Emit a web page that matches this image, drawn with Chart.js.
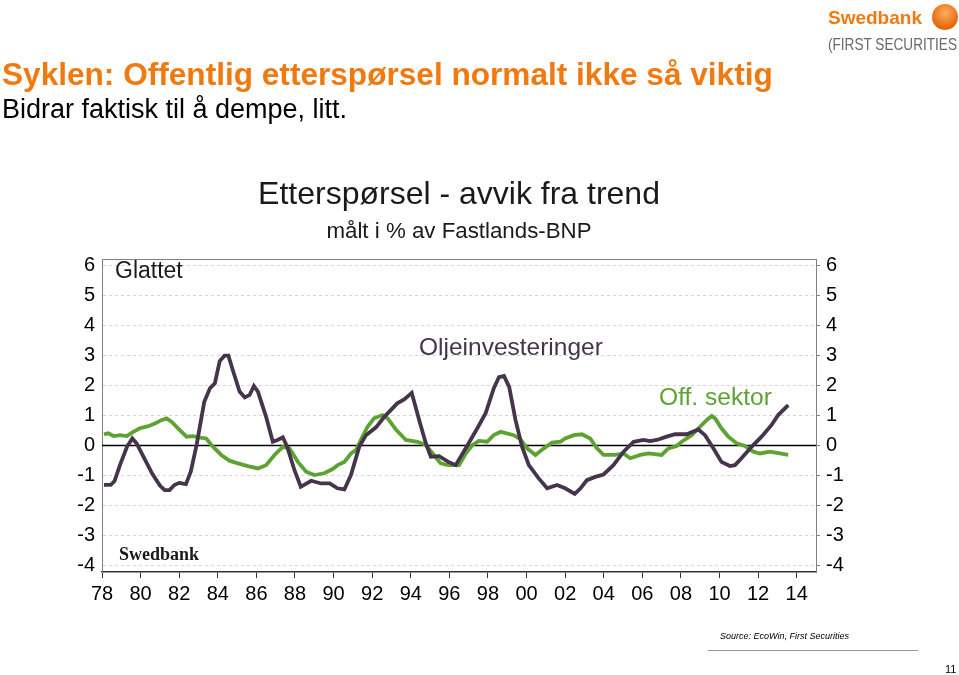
<!DOCTYPE html>
<html>
<head>
<meta charset="utf-8">
<script src="https://cdn.jsdelivr.net/npm/chart.js@4.4.1/dist/chart.umd.min.js"></script>
<style>
  body { margin: 0; background: #fff; width: 959px; height: 675px; overflow: hidden; position: relative; font-family: "Liberation Sans", Arial, sans-serif; }
  #wrap { position: absolute; left: 0; top: 0; width: 959px; height: 675px; }
  .abs { position: absolute; white-space: nowrap; }
  #head1 { left: 2px; top: 56px; font-size: 31.6px; font-weight: bold; color: #f07a10; }
  #head2 { left: 2px; top: 94px; font-size: 27px; color: #000; }
  #logo1 { left: 828px; top: 7px; font-size: 19px; font-weight: bold; color: #f07a10; }
  #sun { left: 932px; top: 4px; width: 26px; height: 26px; border-radius: 50%; background: radial-gradient(circle at 50% 35%, #f9b060, #e8650a 70%); }
  #logo2 { left: 828px; top: 35px; font-size: 17px; color: #6a6a6a; transform-origin: left top; transform: scaleX(0.8); }
  #source { left: 720px; top: 631px; font-size: 9px; font-style: italic; color: #000; }
  #rule { left: 708px; top: 650px; width: 210px; height: 1px; background: #999; }
  #page { left: 945px; top: 663px; font-size: 11px; color: #000; }
</style>
</head>
<body>
<div id="wrap"><canvas id="chart" width="959" height="675"></canvas></div>
<div class="abs" id="head1">Syklen: Offentlig etterspørsel normalt ikke så viktig</div>
<div class="abs" id="head2">Bidrar faktisk til å dempe, litt.</div>
<div class="abs" id="logo1">Swedbank</div>
<div class="abs" id="sun"></div>
<div class="abs" id="logo2">(FIRST SECURITIES</div>
<div class="abs" id="source">Source: EcoWin, First Securities</div>
<div class="abs" id="rule"></div>
<div class="abs" id="page">11</div>
<script>
// Oljeinvesteringer (purple)
const oljeYears = [1978.1, 1978.45, 1978.65, 1978.93, 1979.3, 1979.57, 1979.8, 1980.2, 1980.6, 1981.0,
  1981.25, 1981.5, 1981.75, 1982.0, 1982.35, 1982.6, 1982.9, 1983.3, 1983.6, 1983.85,
  1984.1, 1984.35, 1984.55, 1984.8, 1985.13, 1985.4, 1985.65, 1985.87, 1986.08, 1986.5,
  1986.85, 1987.1, 1987.37, 1987.6, 1987.97, 1988.3, 1988.84, 1989.35, 1989.8, 1990.2,
  1990.56, 1990.9, 1991.33, 1991.68, 1992.2, 1992.63, 1993.3, 1993.66, 1994.05, 1994.45,
  1994.78, 1995.04, 1995.47, 1995.95, 1996.33, 1997.0, 1997.45, 1997.88, 1998.3, 1998.57,
  1998.83, 1999.1, 1999.43, 1999.77, 2000.12, 2000.63, 2001.07, 2001.58, 2002.0, 2002.5,
  2002.8, 2003.13, 2003.56, 2003.99, 2004.5, 2005.03, 2005.55, 2006.06, 2006.4, 2006.75,
  2007.26, 2007.7, 2008.3, 2008.9, 2009.25, 2009.68, 2010.1, 2010.54, 2010.8, 2011.14,
  2011.66, 2012.18, 2012.7, 2013.04, 2013.56];
const oljeValues = [-1.33, -1.33, -1.2, -0.67, -0.05, 0.22, 0.05, -0.45, -0.95, -1.35,
  -1.5, -1.5, -1.33, -1.26, -1.3, -0.89, 0.0, 1.44, 1.9, 2.06,
  2.8, 2.98, 2.98, 2.45, 1.78, 1.59, 1.67, 1.97, 1.78, 0.95,
  0.11, 0.17, 0.26, -0.06, -0.83, -1.39, -1.19, -1.28, -1.28, -1.44,
  -1.48, -1.0, -0.06, 0.33, 0.59, 0.94, 1.39, 1.52, 1.74, 0.8,
  0.06, -0.39, -0.37, -0.56, -0.67, 0.06, 0.56, 1.06, 1.89, 2.26,
  2.3, 1.94, 0.83, -0.06, -0.67, -1.11, -1.44, -1.33, -1.44, -1.63,
  -1.44, -1.17, -1.06, -0.98, -0.67, -0.22, 0.11, 0.17, 0.13, 0.17,
  0.28, 0.36, 0.36, 0.52, 0.33, -0.11, -0.56, -0.7, -0.67, -0.44,
  -0.06, 0.28, 0.67, 1.0, 1.33];

// Off. sektor (green)
const offYears = [1978.1, 1978.33, 1978.6, 1978.93, 1979.28, 1979.62, 1979.96, 1980.4, 1980.74, 1981.08,
  1981.34, 1981.6, 1982.03, 1982.38, 1982.72, 1983.0, 1983.4, 1983.76, 1984.18, 1984.6,
  1985.04, 1985.56, 1986.08, 1986.5, 1986.94, 1987.37, 1987.72, 1988.15, 1988.58, 1989.0,
  1989.52, 1989.95, 1990.21, 1990.56, 1990.9, 1991.16, 1991.5, 1991.76, 1992.1, 1992.54,
  1992.8, 1993.23, 1993.75, 1994.35, 1994.78, 1995.2, 1995.55, 1995.95, 1996.5, 1996.85,
  1997.19, 1997.53, 1997.96, 1998.3, 1998.66, 1999.34, 1999.69, 2000.03, 2000.46, 2000.9,
  2001.32, 2001.76, 2002.0, 2002.45, 2002.87, 2003.3, 2003.65, 2003.99, 2004.6, 2005.03,
  2005.37, 2005.9, 2006.32, 2007.0, 2007.35, 2007.78, 2008.04, 2008.56, 2008.99, 2009.33,
  2009.6, 2009.77, 2010.1, 2010.46, 2010.88, 2011.32, 2011.75, 2012.1, 2012.6, 2013.13,
  2013.56];
const offValues = [0.36, 0.39, 0.3, 0.33, 0.3, 0.44, 0.56, 0.63, 0.72, 0.83,
  0.89, 0.78, 0.5, 0.28, 0.3, 0.26, 0.22, -0.06, -0.33, -0.52,
  -0.61, -0.7, -0.78, -0.67, -0.33, -0.06, -0.11, -0.56, -0.89, -1.0,
  -0.94, -0.8, -0.67, -0.56, -0.28, -0.17, 0.28, 0.61, 0.89, 1.0,
  0.89, 0.52, 0.17, 0.11, 0.0, -0.33, -0.61, -0.67, -0.67, -0.28,
  0.0, 0.14, 0.11, 0.33, 0.44, 0.33, 0.19, -0.11, -0.33, -0.11,
  0.08, 0.11, 0.22, 0.33, 0.36, 0.22, -0.11, -0.33, -0.33, -0.28,
  -0.44, -0.33, -0.28, -0.33, -0.11, -0.03, 0.11, 0.33, 0.61, 0.83,
  0.97, 0.89, 0.56, 0.28, 0.06, -0.03, -0.22, -0.28, -0.22, -0.28,
  -0.33];

const xTicks = [1978, 1980, 1982, 1984, 1986, 1988, 1990, 1992, 1994, 1996,
  1998, 2000, 2002, 2004, 2006, 2008, 2010, 2012, 2014];
const yTicks = [-4, -3, -2, -1, 0, 1, 2, 3, 4, 5, 6];

const FONT = "'Liberation Sans', Arial, sans-serif";
const PURPLE = "#45344c";
const GREEN = "#5ea332";

const toPoints = (xs, ys) => xs.map((x, i) => ({ x: x, y: ys[i] }));

// texts, zero line and top border drawn on the canvas
const extras = {
  id: "extras",
  beforeDatasetsDraw(chart) {
    const { ctx, chartArea: a, scales: { y } } = chart;
    ctx.save();
    ctx.strokeStyle = "#000";
    ctx.lineWidth = 1.5;
    const y0 = Math.round(y.getPixelForValue(0)) + 0.5;
    ctx.beginPath();
    ctx.moveTo(a.left, y0);
    ctx.lineTo(a.right, y0);
    ctx.stroke();
    ctx.strokeStyle = "#808080";
    ctx.lineWidth = 1;
    ctx.beginPath();
    ctx.moveTo(a.left, a.top + 0.5);
    ctx.lineTo(a.right, a.top + 0.5);
    ctx.stroke();
    ctx.restore();
  },
  afterDraw(chart) {
    const { ctx, chartArea: a } = chart;
    const cx = (a.left + a.right) / 2;
    ctx.save();
    ctx.textBaseline = "middle";
    ctx.textAlign = "center";
    ctx.fillStyle = "#1a1a1a";
    ctx.font = "32px " + FONT;
    ctx.fillText("Etterspørsel - avvik fra trend", cx, 195);
    ctx.font = "22.3px " + FONT;
    ctx.fillText("målt i % av Fastlands-BNP", cx, 232);

    ctx.textAlign = "left";
    ctx.font = "23px " + FONT;
    ctx.fillText("Glattet", 115, 272);
    ctx.fillStyle = PURPLE;
    ctx.font = "24.5px " + FONT;
    ctx.fillText("Oljeinvesteringer", 419, 348);
    ctx.fillStyle = GREEN;
    ctx.font = "24.6px " + FONT;
    ctx.fillText("Off. sektor", 659, 398);
    ctx.fillStyle = "#1a1a1a";
    ctx.font = "bold 18px 'Liberation Serif', 'Times New Roman', serif";
    ctx.fillText("Swedbank", 119, 555);
    ctx.restore();
  }
};

new Chart(document.getElementById("chart"), {
  type: "line",
  data: {
    datasets: [
      {
        label: "Oljeinvesteringer",
        data: toPoints(oljeYears, oljeValues),
        borderColor: PURPLE,
        borderWidth: 3.8,
        pointRadius: 0,
        tension: 0,
        yAxisID: "y"
      },
      {
        label: "Off. sektor",
        data: toPoints(offYears, offValues),
        borderColor: GREEN,
        borderWidth: 3.8,
        pointRadius: 0,
        tension: 0,
        yAxisID: "y"
      }
    ]
  },
  options: {
    responsive: false,
    animation: false,
    layout: { padding: { top: 259, left: 0, right: 0, bottom: 0 } },
    plugins: {
      legend: { display: false },
      tooltip: { enabled: false }
    },
    scales: {
      x: {
        type: "linear",
        min: 1978,
        max: 2015,
        afterBuildTicks: s => { s.ticks = xTicks.map(v => ({ value: v })); },
        afterFit: s => { s.height = 103; },
        ticks: {
          callback: v => String(v % 100).padStart(2, "0"),
          font: { family: FONT, size: 20 },
          color: "#000",
          padding: 4,
          maxRotation: 0,
          autoSkip: false
        },
        grid: { drawOnChartArea: false, drawTicks: true, tickLength: 6, color: "#333" },
        border: { color: "#333", width: 1.5 }
      },
      y: {
        position: "left",
        min: -4.23,
        max: 6.2,
        afterBuildTicks: s => { s.ticks = yTicks.map(v => ({ value: v })); },
        afterFit: s => { s.width = 102; },
        ticks: {
          font: { family: FONT, size: 20 },
          color: "#000",
          padding: 7
        },
        grid: {
          drawTicks: false,
          color: c => (c.tick && c.tick.value === 0) ? "rgba(0,0,0,0)" : "#d4d4d4",
          lineWidth: 1
        },
        border: { color: "#808080", width: 1, dash: [3, 3] }
      },
      y2: {
        position: "right",
        min: -4.23,
        max: 6.2,
        afterBuildTicks: s => { s.ticks = yTicks.map(v => ({ value: v })); },
        afterFit: s => { s.width = 143; },
        ticks: {
          font: { family: FONT, size: 20 },
          color: "#000",
          padding: 6
        },
        grid: { drawOnChartArea: false, drawTicks: true, tickLength: 4, color: "#808080" },
        border: { color: "#808080", width: 1 }
      }
    }
  },
  plugins: [extras]
});
</script>
</body>
</html>
